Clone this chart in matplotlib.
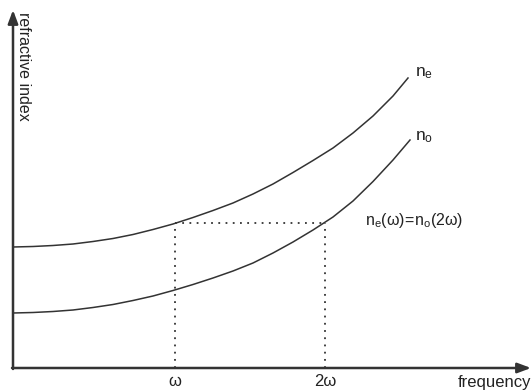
import matplotlib.pyplot as plt
import numpy as np

plt.rcParams['font.family'] = ['Liberation Sans', 'DejaVu Sans']
plt.rcParams['mathtext.fontset'] = 'custom'
plt.rcParams['mathtext.rm'] = 'Liberation Sans'

# valores (frequencia, indice) em unidades arbitrarias
freq = [0, 20, 40, 60, 80, 100, 120, 140, 160, 180, 200,
        220, 240, 260, 280, 300, 320, 340, 360, 380, 395]
n_e = [121, 121.5, 122.5, 124, 126.5, 129.5, 133.5, 138.5, 144, 150.5, 157.5,
       165, 174, 184, 195.5, 207.5, 220, 235, 252, 272, 290]

freq_o = [0, 20, 40, 60, 80, 100, 120, 140, 160, 180, 200,
          220, 240, 260, 280, 300, 320, 340, 360, 380, 397]
n_o = [55, 55.5, 56.5, 58, 60.5, 63.5, 67.5, 72, 77.5, 83.5, 90,
       97, 105, 115, 126, 138, 151, 167, 186.5, 208, 228]

w = 162        # omega
w2 = 312       # 2 omega
n_match = 145  # n_e(w) = n_o(2w)

cor = '#333333'
cor_txt = '#222222'

figura = plt.figure(figsize=(5.32, 3.92), dpi=100)
eixo = figura.add_axes([0, 0, 1, 1])
eixo.set_xlim(-13, 519)
eixo.set_ylim(-24, 368)
eixo.axis('off')

# curvas
eixo.plot(freq, n_e, color=cor, lw=1.1)
eixo.plot(freq_o, n_o, color=cor, lw=1.1)

# linhas pontilhadas
pont = (0, (1, 3))
eixo.plot([w, w], [0, n_match], color=cor, lw=1.3, ls=pont)
eixo.plot([w2, w2], [0, n_match], color=cor, lw=1.3, ls=pont)
eixo.plot([w, w2], [n_match, n_match], color=cor, lw=1.3, ls=pont)

# eixos com setas
seta = dict(arrowstyle='-|>,head_length=0.8,head_width=0.3', color=cor, lw=1.8,
            shrinkA=0, shrinkB=0)
eixo.annotate('', xy=(0, 358), xytext=(0, -1), arrowprops=seta)
eixo.annotate('', xy=(518, 0), xytext=(-1, 0), arrowprops=seta)

# textos
eixo.text(3, 356, 'refractive index', rotation=-90, ha='left', va='top',
          fontsize=11.5, color=cor_txt)
eixo.text(518, -22, 'frequency', ha='right', va='bottom', fontsize=12, color=cor_txt)
eixo.text(w, -6, 'ω', ha='center', va='top', fontsize=12, color=cor_txt)
eixo.text(w2, -6, '2ω', ha='center', va='top', fontsize=12, color=cor_txt)
eixo.text(402, 295, r'$\mathregular{n_e}$', ha='left', va='center', fontsize=12.5, color=cor_txt)
eixo.text(402, 231, r'$\mathregular{n_o}$', ha='left', va='center', fontsize=12.5, color=cor_txt)
eixo.text(352, 148, r'$\mathregular{n_e(ω)\!=\!n_o(2ω)}$', ha='left', va='center',
          fontsize=11.5, color=cor_txt)

figura.savefig('out.png', dpi=100)
